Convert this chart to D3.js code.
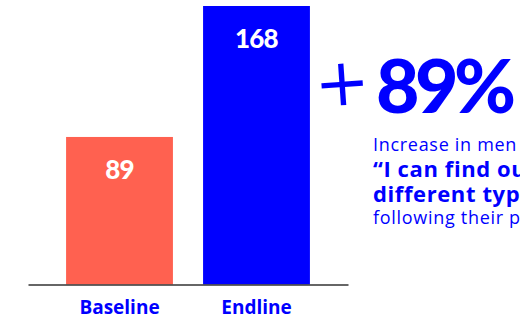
<!DOCTYPE html>
<html><head><meta charset="utf-8">
<script src="https://cdn.jsdelivr.net/npm/d3@7"></script>
<style>
html,body{margin:0;padding:0;background:#fff;overflow:hidden}
svg{display:block}
</style></head>
<body>
<script>
const categories = ["Baseline", "Endline"];
const values = [89, 168];
const barColors = ["#FF6150", "#0000FF"];
const headline = "89%";
const noteLines = [
  {text: "Increase in men who said", bold: false},
  {text: "\u201CI can find out about", bold: true},
  {text: "different types of FP\u201D", bold: true},
  {text: "following their participation", bold: false}
];

const W = 520, H = 322;
const blue = "#0000FF";
const svg = d3.select("body").append("svg").attr("width", W).attr("height", H);

const x = d3.scaleBand().domain(categories).range([28, 348]).paddingInner(0.22).paddingOuter(0.278);
const y = d3.scaleLinear().domain([0, 168]).range([284.5, 6]);

svg.selectAll("rect.bar").data(values).join("rect")
  .attr("class", "bar")
  .attr("x", (d, i) => x(categories[i]))
  .attr("width", x.bandwidth())
  .attr("y", d => y(d))
  .attr("height", d => y(0) - y(d))
  .attr("fill", (d, i) => barColors[i]);

svg.selectAll("text.val").data(values).join("text")
  .attr("class", "val")
  .attr("x", (d, i) => x(categories[i]) + x.bandwidth() / 2)
  .attr("y", d => y(d) + 42)
  .attr("text-anchor", "middle")
  .attr("fill", "#fff")
  .style("font-family", "Lato, 'Open Sans', sans-serif")
  .style("font-weight", 900)
  .style("font-size", "26px")
  .style("letter-spacing", "-0.8px")
  .text(d => d);

// axis
const axis = d3.axisBottom(x).tickSize(0).tickPadding(16);
const gAx = svg.append("g").attr("transform", `translate(0,${y(0)})`).call(axis);
gAx.select(".domain").attr("stroke", "#333").attr("stroke-width", 1.5);
gAx.selectAll(".tick text")
  .attr("fill", blue)
  .style("font-family", "'Open Sans', sans-serif")
  .style("font-weight", 700)
  .style("font-size", "19px")
  .style("letter-spacing", "0px");

// headline
svg.append("text")
  .attr("x", 342).attr("y", 105)
  .attr("text-anchor", "middle")
  .attr("fill", blue)
  .attr("transform", "rotate(-4,342,84)")
  .style("font-family", "'DejaVu Sans', sans-serif")
  .style("font-weight", 400)
  .style("font-size", "66px")
  .text("+");
svg.append("text")
  .attr("x", 376).attr("y", 113)
  .attr("fill", blue)
  .style("font-family", "Lato, sans-serif")
  .style("font-weight", 900)
  .style("font-size", "75px")
  .style("letter-spacing", "-4.5px")
  .text(headline);

const lineY = [151, 177, 202, 224];
svg.selectAll("text.note").data(noteLines).join("text")
  .attr("class", "note")
  .attr("x", 373)
  .attr("y", (d, i) => lineY[i])
  .attr("fill", blue)
  .style("font-family", "'Open Sans', sans-serif")
  .style("font-weight", d => d.bold ? 700 : 400)
  .style("font-size", d => d.bold ? "22px" : "18px")
  .style("letter-spacing", d => d.bold ? "0.6px" : "0.7px")
  .text(d => d.text);
</script>
</body></html>
